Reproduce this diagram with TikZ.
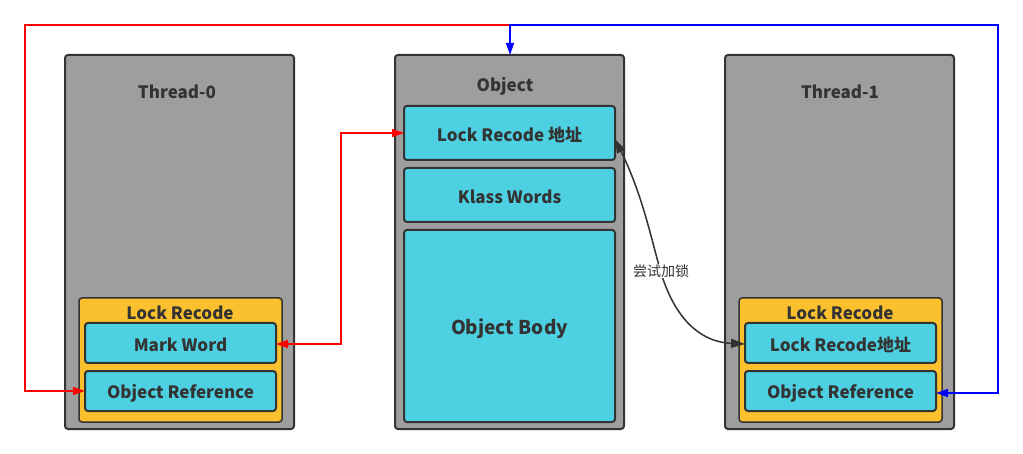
\documentclass[tikz,border=0pt]{standalone}
\usepackage{fontspec}
\setmainfont{Noto Sans CJK SC}
\usetikzlibrary{arrows.meta}
\definecolor{boxgray}{HTML}{9E9E9E}
\definecolor{cyanbox}{HTML}{4DD0E1}
\definecolor{yellowbox}{HTML}{FBC02D}
\definecolor{edge}{HTML}{333333}
\definecolor{redline}{HTML}{FF0000}
\definecolor{blueline}{HTML}{0000FF}
\tikzset{
  panel/.style={draw=edge, line width=2pt, fill=boxgray, rounded corners=3pt},
  field/.style={draw=edge, line width=2pt, fill=cyanbox, rounded corners=3pt},
  lockbox/.style={draw=edge, line width=1.5pt, fill=yellowbox, rounded corners=3pt},
  lbl/.style={text=edge, font=\bfseries\fontsize{17}{19}\selectfont},
  tip/.style={-{Triangle[length=12pt,width=8pt]}},
  tips/.style={{Triangle[length=12pt,width=8pt]}-{Triangle[length=12pt,width=8pt]}},
}
\begin{document}
\begin{tikzpicture}[x=1pt,y=-1pt]
\useasboundingbox (0,0) rectangle (1023,454);
% panels
\draw[panel] (65,55) rectangle (294,429);
\draw[panel] (395,55) rectangle (624,429);
\draw[panel] (725,55) rectangle (954,429);
\node[lbl] (t0title) at (177,92) {Thread-0};
\node[lbl] (objtitle) at (505,86) {Object};
\node[lbl] (t1title) at (840,92) {Thread-1};
\coordinate (objtop) at (510,55);
% left lock record
\draw[lockbox] (79,298) rectangle (282,422);
\node[lbl] (lr0) at (180,313) {Lock Recode};
\draw[field] (85,323) rectangle (276,363);
\node[lbl] (mark) at (180.5,345) {Mark Word};
\coordinate (markE) at (276,344);
\draw[field] (85,371) rectangle (276,411);
\node[lbl] (ref0) at (180.5,393) {Object Reference};
\coordinate (ref0W) at (85,391);
% object fields
\draw[field] (404,106) rectangle (615,160);
\node[lbl] (objlock) at (509.5,135) {Lock Recode 地址};
\coordinate (objlockW) at (404,133);
\coordinate (objlockE) at (615,139);
\draw[field] (404,168) rectangle (615,222);
\node[lbl] (klass) at (509.5,197) {Klass Words};
\draw[field] (404,230) rectangle (615,422);
\node[text=edge, font=\bfseries\fontsize{19}{21}\selectfont] (body) at (509.5,329) {Object Body};
% right lock record
\draw[lockbox] (739,298) rectangle (942,422);
\node[lbl] (lr1) at (840,313) {Lock Recode};
\draw[field] (745,323) rectangle (936,363);
\node[lbl] (lr1addr) at (840.5,345) {Lock Recode地址};
\coordinate (lr1W) at (745,344);
\draw[field] (745,371) rectangle (936,411);
\node[lbl] (ref1) at (840.5,393) {Object Reference};
\coordinate (ref1E) at (936,393);
% red connectors
\draw[redline, line width=1.5pt, tip] (objtop |- 0,25) -- (25,25) -- (25,391) -- (ref0W);
\draw[redline, line width=1.5pt, tips] (markE) -- (341,344) -- (341,133) -- (objlockW);
% blue connector
\draw[blueline, line width=1.5pt, tips] (ref1E) -- (998,393) -- (998,25) -- (510,25) -- (objtop);
% curve
\draw[edge, line width=1.5pt, {Triangle[length=14pt,width=9pt]}-{Triangle[length=14pt,width=9pt]}] (objlockE) .. controls (640,190) and (648,225) .. (658,262)
   .. controls (672,318) and (700,342) .. (lr1W);
\node[fill=white, inner sep=1pt, text=edge, font=\fontsize{14}{16}\selectfont] (trylock) at (661,271) {尝试加锁};
\end{tikzpicture}
\end{document}
